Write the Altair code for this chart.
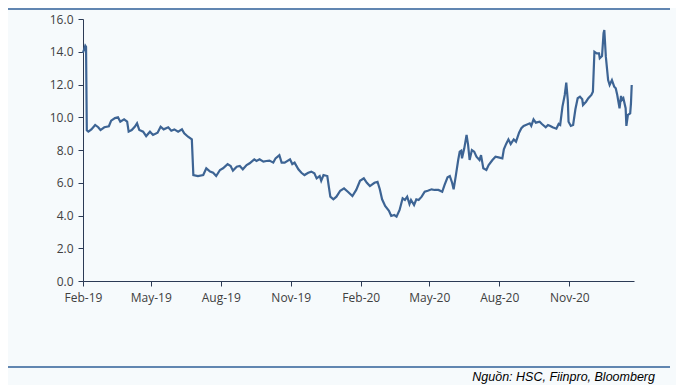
import altair as alt
import pandas as pd

# Days since 2019-02-01 and price values
day_offsets = [0, 3, 4, 5, 7, 11, 16, 20, 23, 28, 34, 37, 42, 46, 49, 54, 58, 60, 64, 68,
               71, 74, 79, 83, 88, 92, 98, 102, 106, 112, 116, 120, 125, 130, 133, 138, 143, 145, 151, 158,
               162, 167, 171, 175, 180, 184, 190, 194, 197, 202, 206, 210, 215, 219, 225, 228, 232, 237, 241, 245,
               250, 253, 258, 261, 265, 272, 275, 278, 283, 287, 291, 296, 300, 304, 307, 311, 313, 316, 321, 323,
               325, 329, 333, 338, 343, 348, 354, 359, 364, 369, 373, 377, 383, 387, 390, 393, 397, 402, 405, 409,
               412, 416, 420, 423, 426, 429, 431, 435, 438, 441, 445, 449, 453, 458, 462, 467, 472, 475, 479, 482,
               485, 487, 490, 493, 495, 497, 498, 501, 504, 506, 508, 511, 514, 517, 521, 523, 526, 530, 533, 538,
               542, 546, 551, 553, 556, 559, 562, 566, 569, 573, 576, 579, 582, 587, 589, 592, 595, 600, 603, 608,
               611, 614, 617, 622, 625, 627, 630, 633, 635, 637, 638, 641, 644, 647, 650, 653, 656, 657, 661, 664,
               668, 670, 672, 675, 678, 679, 682, 684, 685, 687, 690, 692, 695, 698, 700, 702, 705, 707, 708, 710,
               713, 714, 716, 719, 720, 721]
values = [13.94, 14.37, 14.30, 9.20, 9.12, 9.26, 9.53, 9.39, 9.22, 9.39, 9.45, 9.79, 9.95, 10.00, 9.73, 9.87, 9.73, 9.12, 9.22, 9.42,
          9.63, 9.22, 9.12, 8.85, 9.12, 8.92, 9.06, 9.42, 9.26, 9.39, 9.18, 9.26, 9.12, 9.26, 9.02, 8.81, 8.65, 6.47, 6.41, 6.47,
          6.88, 6.68, 6.61, 6.41, 6.78, 6.88, 7.14, 7.02, 6.74, 6.98, 7.02, 6.82, 7.08, 7.19, 7.43, 7.33, 7.43, 7.29, 7.33, 7.35,
          7.23, 7.49, 7.69, 7.23, 7.23, 7.43, 7.14, 7.23, 6.82, 6.61, 6.47, 6.61, 6.68, 6.58, 6.27, 6.41, 6.12, 6.47, 6.41, 5.76,
          5.15, 4.99, 5.15, 5.51, 5.66, 5.45, 5.19, 5.56, 6.12, 6.27, 6.00, 5.80, 6.00, 6.06, 5.60, 4.99, 4.58, 4.29, 3.97, 4.03,
          3.93, 4.34, 5.05, 4.95, 5.15, 4.70, 4.95, 4.64, 4.99, 4.95, 5.15, 5.45, 5.51, 5.60, 5.56, 5.56, 5.45, 5.86, 6.33, 6.41,
          6.00, 5.60, 6.47, 7.39, 7.90, 7.96, 7.49, 8.10, 8.92, 8.31, 7.39, 8.00, 7.90, 7.59, 7.39, 7.69, 6.88, 6.78, 7.08, 7.39,
          7.59, 7.55, 7.49, 8.04, 8.37, 8.65, 8.37, 8.65, 8.51, 9.06, 9.33, 9.47, 9.53, 9.63, 9.47, 9.87, 9.67, 9.73, 9.59, 9.39,
          9.53, 9.47, 9.39, 9.30, 9.59, 9.53, 10.65, 11.36, 12.11, 11.05, 9.73, 9.47, 9.53, 10.49, 11.16, 11.26, 11.10, 10.75, 10.95, 11.16,
          11.36, 11.56, 14.00, 13.90, 13.90, 13.60, 13.74, 15.13, 15.33, 13.70, 12.27, 11.97, 12.27, 11.87, 11.77, 11.36, 10.55, 11.30, 11.05, 11.16,
          10.55, 9.47, 10.14, 10.24, 10.85, 11.97]

tick_months = [(2019, 2), (2019, 5), (2019, 8), (2019, 11), (2020, 2), (2020, 5), (2020, 8), (2020, 11)]
y_ticks = [0, 2, 4, 6, 8, 10, 12, 14, 16]
source_text = "Nguồn: HSC, Fiinpro, Bloomberg"

start = pd.Timestamp("2019-02-01")
df = pd.DataFrame({
    "date": (start + pd.to_timedelta(day_offsets, unit="D")).strftime("%Y-%m-%dT00:00:00"),
    "value": values,
})

axis_color = "#2B3A55"
label_color = "#404040"

x_enc = alt.X(
    "date:T",
    title=None,
    scale=alt.Scale(domain=[alt.DateTime(year=2019, month=2, date=1),
                            alt.DateTime(year=2021, month=1, date=25)]),
    axis=alt.Axis(
        values=[alt.DateTime(year=y, month=m, date=1) for y, m in tick_months],
        format="%b-%y", grid=False, domainColor=axis_color, tickColor=axis_color,
        tickSize=5, labelPadding=6, labelFont="Open Sans", labelFontSize=12,
        labelColor=label_color, labelFlush=False,
    ),
)
y_enc = alt.Y(
    "value:Q",
    title=None,
    scale=alt.Scale(domain=[0, 16], nice=False),
    axis=alt.Axis(
        values=y_ticks, format=".1f", grid=False, domainColor=axis_color, tickColor=axis_color,
        tickSize=5, labelPadding=5, labelFont="Open Sans", labelFontSize=12,
        labelColor=label_color,
    ),
)

line = alt.Chart(df).mark_line(color="#3D6494", strokeWidth=2.2).encode(x=x_enc, y=y_enc)

dummy = pd.DataFrame({"a": [0]})
top_rule = alt.Chart(dummy).mark_rule(color="#2F5F98", strokeWidth=1.5).encode(
    x=alt.value(-75), x2=alt.value(587), y=alt.value(-10))
bottom_rule = alt.Chart(dummy).mark_rule(color="#2F5F98", strokeWidth=1.5).encode(
    x=alt.value(-75), x2=alt.value(587), y=alt.value(348))
source = alt.Chart(dummy).mark_text(
    align="right", baseline="middle", font="Liberation Sans", fontStyle="italic",
    fontSize=12.5, color="#000000").encode(
    x=alt.value(572), y=alt.value(358), text=alt.value(source_text))

chart = alt.layer(line, top_rule, bottom_rule, source).properties(
    width=551, height=262,
    autosize=alt.AutoSizeParams(type="none"),
    padding={"left": 75, "top": 11, "right": 42, "bottom": 104},
    background="#F6FAFC",
).configure_view(stroke=None)

chart.save("out.html", embed_options={"renderer": "svg", "actions": False})
